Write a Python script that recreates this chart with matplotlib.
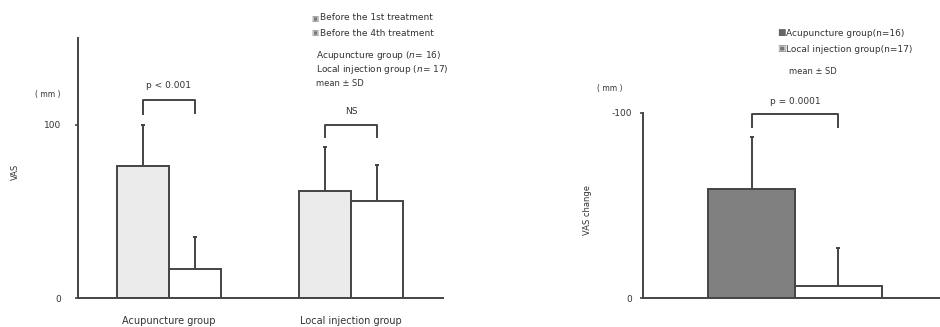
import matplotlib.pyplot as plt
import numpy as np

plt.rcParams['font.family'] = ['DejaVu Sans']

# VAS before 1st / before 4th treatment (mean, SD)
groups = ['Acupuncture group', 'Local injection group']
vas_before = [76, 62]
vas_before_sd = [24, 25]
vas_after = [17, 56]
vas_after_sd = [18, 21]

# VAS change between the two visits
change_groups = ['Acupuncture group(n=16)', 'Local injection group(n=17)']
vas_change = [59, 6.5]
vas_change_sd = [28, 20.5]

edge = '#444444'
txt = '#333333'
fs = 6.5

fig = plt.figure(figsize=(9.4, 3.27), dpi=100)

# ---- left panel ----
ax = fig.add_axes([78 / 940, 1 - 298 / 327, 365 / 940, 260 / 327])
centers = np.array([1.75, 5.25])
w = 1.0
x1 = centers - w / 2
x2 = centers + w / 2
ax.bar(x1, vas_before, width=w, color='#ebebeb', edgecolor=edge, linewidth=1.4, zorder=2)
ax.bar(x2, vas_after, width=w, color='white', edgecolor=edge, linewidth=1.4, zorder=2)
ax.errorbar(x1, vas_before, yerr=[np.zeros(2), vas_before_sd], fmt='none',
            ecolor=edge, elinewidth=1.4, capsize=1.5, capthick=1.4, zorder=1)
ax.errorbar(x2, vas_after, yerr=[np.zeros(2), vas_after_sd], fmt='none',
            ecolor=edge, elinewidth=1.4, capsize=1.5, capthick=1.4, zorder=1)
ax.set_xlim(0, 7.02)
ax.set_ylim(0, 150)
ax.set_yticks([0, 100])
ax.set_yticklabels(['0', '100'], fontsize=fs, color=txt)
ax.set_xticks(centers)
ax.set_xticklabels(groups, fontsize=fs + 0.5, color=txt)
ax.tick_params(axis='x', length=0, pad=13)
ax.tick_params(axis='y', length=2, width=1.2, color=edge, pad=10)
for s in ['top', 'right']:
    ax.spines[s].set_visible(False)
for s in ['left', 'bottom']:
    ax.spines[s].set_color(edge)
    ax.spines[s].set_linewidth(1.4)

# significance brackets
ax.plot([x1[0], x1[0], x2[0], x2[0]], [106, 114.5, 114.5, 107], color=edge, lw=1.4, clip_on=False)
ax.text(centers[0], 120, 'p < 0.001', ha='center', va='bottom', fontsize=fs, color=txt)
ax.plot([x1[1], x1[1], x2[1], x2[1]], [93, 100, 100, 93], color=edge, lw=1.4, clip_on=False)
ax.text(centers[1], 105, 'NS', ha='center', va='bottom', fontsize=fs, color=txt)

fig.text(48 / 940, 1 - 95 / 327, '( mm )', fontsize=fs - 1, color=txt, ha='center', va='center')
fig.text(15 / 940, 1 - 172 / 327, 'VAS', fontsize=fs - 0.5, color=txt, rotation=90,
         ha='center', va='center')

fig.text(311 / 940, 1 - 18 / 327, '\u25a3', fontsize=fs - 1, color='#777777', va='center')
fig.text(320 / 940, 1 - 18 / 327, 'Before the 1st treatment', fontsize=fs, color=txt, va='center')
fig.text(311 / 940, 1 - 33 / 327, '\u25a3', fontsize=fs - 1, color='#777777', va='center')
fig.text(320 / 940, 1 - 33 / 327, 'Before the 4th treatment', fontsize=fs, color=txt, va='center')
fig.text(316 / 940, 1 - 55 / 327, 'Acupuncture group ($n$= 16)', fontsize=fs, color=txt, va='center')
fig.text(316 / 940, 1 - 69 / 327, 'Local injection group ($n$= 17)', fontsize=fs, color=txt, va='center')
fig.text(316 / 940, 1 - 83 / 327, 'mean \u00b1 SD', fontsize=fs - 0.5, color=txt, va='center')

# ---- right panel ----
bx = fig.add_axes([643 / 940, 1 - 298 / 327, 297 / 940, 185 / 327])
cx = np.array([1.25, 2.25])
bx.bar(cx, vas_change, width=1.0, color=['#808080', 'white'], edgecolor=edge, linewidth=1.4, zorder=2)
bx.errorbar(cx, vas_change, yerr=[np.zeros(2), vas_change_sd], fmt='none',
            ecolor=edge, elinewidth=1.4, capsize=1.5, capthick=1.4, zorder=1)
bx.set_xlim(0, 3.42)
bx.set_ylim(0, 100)
bx.set_yticks([0, 100])
bx.set_yticklabels(['0', '-100'], fontsize=fs, color=txt)
bx.set_xticks([])
bx.tick_params(axis='y', length=2, width=1.2, color=edge, pad=6)
for s in ['top', 'right']:
    bx.spines[s].set_visible(False)
for s in ['left', 'bottom']:
    bx.spines[s].set_color(edge)
    bx.spines[s].set_linewidth(1.4)

bx.plot([cx[0], cx[0], cx[1], cx[1]], [92.5, 99.5, 99.5, 92.5], color=edge, lw=1.4, clip_on=False)
bx.text(cx.mean(), 104, 'p = 0.0001', ha='center', va='bottom', fontsize=fs, color=txt)

fig.text(610 / 940, 1 - 88 / 327, '( mm )', fontsize=fs - 1, color=txt, ha='center', va='center')
fig.text(587 / 940, 1 - 210 / 327, 'VAS change', fontsize=fs - 0.5, color=txt, rotation=90,
         ha='center', va='center')

fig.text(777 / 940, 1 - 33 / 327, '\u25a0', fontsize=fs, color='#666666', va='center')
fig.text(786 / 940, 1 - 33 / 327, change_groups[0], fontsize=fs, color=txt, va='center')
fig.text(777 / 940, 1 - 49 / 327, '\u25a3', fontsize=fs, color='#777777', va='center')
fig.text(786 / 940, 1 - 49 / 327, change_groups[1], fontsize=fs, color=txt, va='center')
fig.text(789 / 940, 1 - 72 / 327, 'mean \u00b1 SD', fontsize=fs - 0.5, color=txt, va='center')

fig.savefig('out.png', dpi=100)
